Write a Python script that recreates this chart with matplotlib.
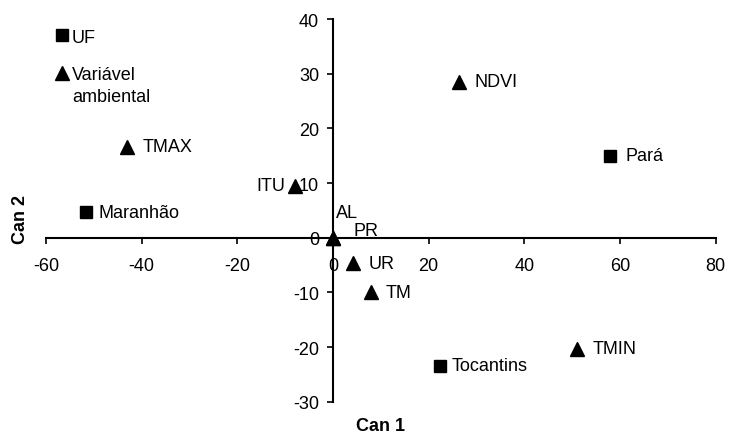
import matplotlib.pyplot as plt
from matplotlib.lines import Line2D

plt.rcParams['font.family'] = ['Liberation Sans', 'DejaVu Sans']
plt.rcParams['font.size'] = 13
plt.rcParams['axes.unicode_minus'] = False

# UF (squares)
uf_names = ['Pará', 'Maranhão', 'Tocantins']
uf_x = [58.0, -51.6, 22.4]
uf_y = [15.0, 4.7, -23.4]

# environmental variables (triangles)
var_names = ['NDVI', 'TMAX', 'ITU', 'UR', 'TM', 'TMIN', 'AL', 'PR']
var_x = [26.3, -43.0, -7.9, 4.2, 7.9, 51.0, 0.0, 0.0]
var_y = [28.5, 16.6, 9.5, -4.7, -10.0, -20.3, 0.0, 0.0]

xticks = [-60, -40, -20, 0, 20, 40, 60, 80]
yticks = [-30, -20, -10, 0, 10, 20, 30, 40]

fig = plt.figure(figsize=(7.31, 4.35), dpi=100)
ax = fig.add_axes([0.063, 0.074, 0.916, 0.880])

ax.plot(uf_x, uf_y, 's', color='black', markersize=8, linestyle='none')
ax.plot(var_x, var_y, '^', color='black', markersize=10, linestyle='none')

for n, x, y in zip(uf_names, uf_x, uf_y):
    dx = 10.5 if n == 'Pará' else 8.5
    ax.annotate(n, (x, y), xytext=(dx, 0), textcoords='offset points',
                ha='left', va='center')

offsets = {'ITU': (-7, 0, 'right'), 'AL': (2, 18, 'left'), 'PR': (15, 5, 'left')}
for n, x, y in zip(var_names, var_x, var_y):
    dx, dy, ha = offsets.get(n, (11, 0, 'left'))
    ax.annotate(n, (x, y), xytext=(dx, dy), textcoords='offset points',
                ha=ha, va='center')

ax.set_xlim(-60, 80)
ax.set_ylim(-30, 40)
ax.set_xticks(xticks)
ax.set_yticks(yticks)

ax.spines['left'].set_position(('data', 0))
ax.spines['bottom'].set_position(('data', 0))
ax.spines['right'].set_visible(False)
ax.spines['top'].set_visible(False)
for s in ['left', 'bottom']:
    ax.spines[s].set_linewidth(1.5)
ax.tick_params(axis='x', direction='out', length=4, width=1.2, pad=10)
ax.tick_params(axis='y', direction='out', length=4, width=1.2, pad=6)

ax.set_xlabel('Can 1', fontweight='bold')
ax.set_ylabel('Can 2', fontweight='bold')
ax.xaxis.set_label_coords(0.5, -0.04)
ax.yaxis.set_label_coords(-0.026, 0.478)

# legend: UF square, then triangle with two-line label
leg1 = ax.legend([Line2D([], [], marker='s', color='black', linestyle='none', markersize=8)],
                 ['UF'], loc='center left', bbox_to_anchor=(0.0155, 0.953),
                 frameon=False, handletextpad=0.25, handlelength=0.6,
                 borderpad=0, borderaxespad=0)
ax.add_artist(leg1)
ax.legend([Line2D([], [], marker='^', color='black', linestyle='none', markersize=10),
           Line2D([], [], linestyle='none')],
          ['Variável', 'ambiental'], loc='center left', bbox_to_anchor=(0.0155, 0.826),
          frameon=False, handletextpad=0.25, handlelength=0.6, labelspacing=0.3,
          borderpad=0, borderaxespad=0)

fig.savefig('out.png', dpi=100)
